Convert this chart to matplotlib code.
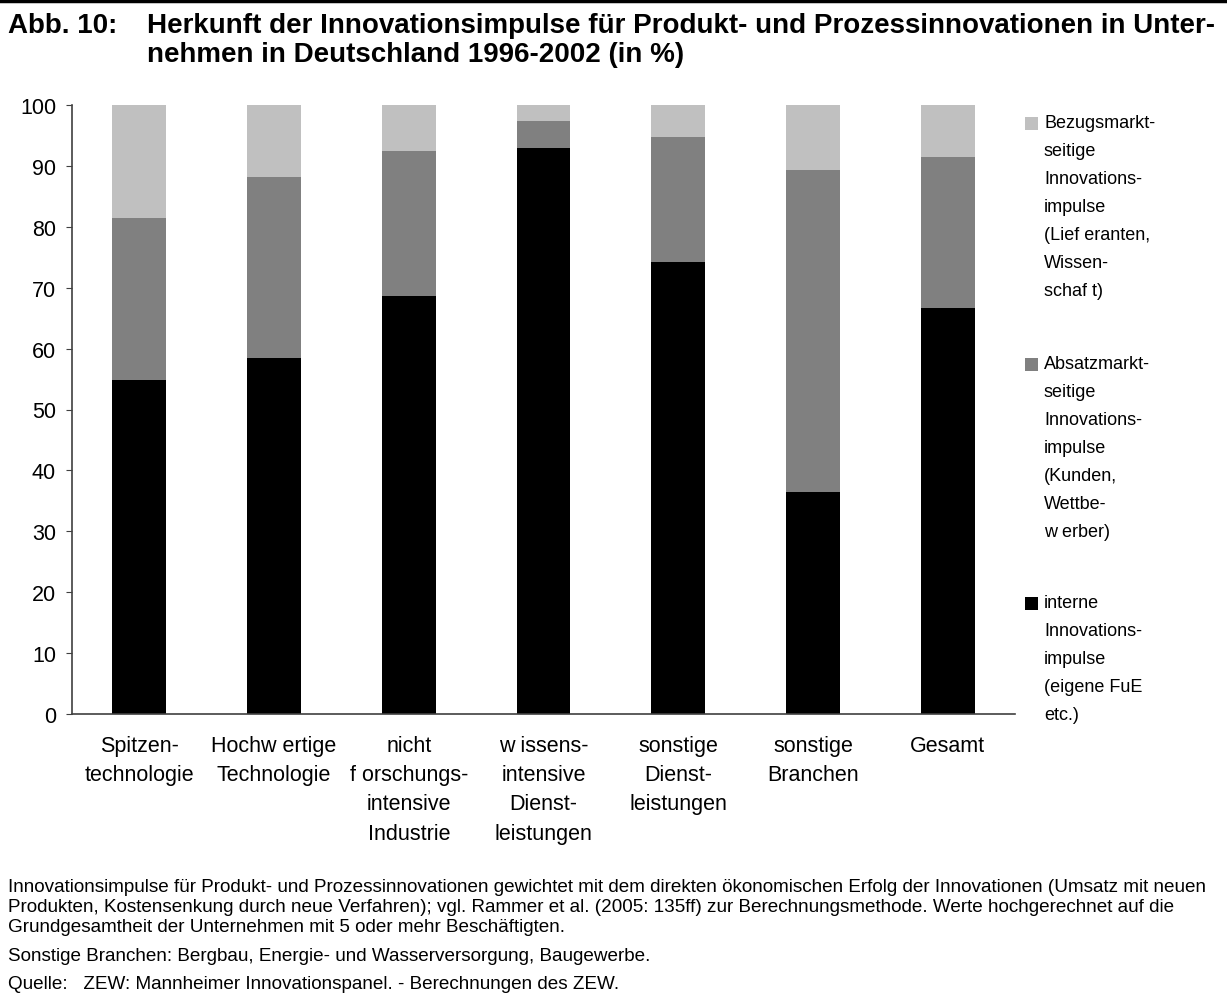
import matplotlib.pyplot as plt
from matplotlib.lines import Line2D
from matplotlib.patches import Rectangle

plt.rcParams['font.family'] = ['Liberation Sans', 'DejaVu Sans']

# Daten (in %)
kategorien = ['Spitzen-\ntechnologie', 'Hochw ertige\nTechnologie', 'nicht\nf orschungs-\nintensive\nIndustrie',
              'w issens-\nintensive\nDienst-\nleistungen', 'sonstige\nDienst-\nleistungen', 'sonstige\nBranchen',
              'Gesamt']
intern = [54.8, 58.4, 68.7, 93.0, 74.3, 36.4, 66.7]
absatz = [26.7, 29.7, 23.7, 4.3, 20.4, 53.0, 24.7]
bezug = [18.5, 11.9, 7.6, 2.7, 5.3, 10.6, 8.6]

farben = ['#000000', '#808080', '#c0c0c0']
legende = [
    ['Bezugsmarkt-', 'seitige', 'Innovations-', 'impulse', '(Lief eranten,', 'Wissen-', 'schaf t)'],
    ['Absatzmarkt-', 'seitige', 'Innovations-', 'impulse', '(Kunden,', 'Wettbe-', 'w erber)'],
    ['interne', 'Innovations-', 'impulse', '(eigene FuE', 'etc.)'],
]

W, H = 1227, 995
fig = plt.figure(figsize=(W / 100, H / 100), dpi=100)
ax = fig.add_axes([72 / W, 1 - 715 / H, (1015 - 72) / W, (715 - 106) / H])

x = list(range(len(kategorien)))
bottom3 = [a + b for a, b in zip(intern, absatz)]
ax.bar(x, intern, width=0.4, color=farben[0])
ax.bar(x, absatz, width=0.4, bottom=intern, color=farben[1])
ax.bar(x, bezug, width=0.4, bottom=bottom3, color=farben[2])

ax.set_xlim(-0.5, 6.5)
ax.set_ylim(0, 100)
ax.set_yticks(range(0, 101, 10))
ax.tick_params(axis='y', labelsize=15.5, length=4.5, direction='out', color='#404040', pad=7)
ax.tick_params(axis='x', length=0, labelsize=15.5, pad=15)
ax.set_xticks(x)
ax.set_xticklabels(kategorien, linespacing=1.52)
for s in ['top', 'right']:
    ax.spines[s].set_visible(False)
for s in ['left', 'bottom']:
    ax.spines[s].set_color('#404040')
    ax.spines[s].set_linewidth(1.2)

# Legende (von oben nach unten)
legend_y = [128, 369, 608]
for farbe, zeilen, y0 in zip(farben[::-1], legende, legend_y):
    fig.add_artist(Rectangle((1025 / W, 1 - (y0 + 3) / H), 13 / W, 13 / H,
                             transform=fig.transFigure, color=farbe, lw=0))
    for i, z in enumerate(zeilen):
        fig.text(1044 / W, 1 - (y0 + i * 28) / H, z, fontsize=13, va='baseline')

# Kopfzeile
fig.add_artist(Line2D([0, 1], [1 - 2 / H, 1 - 2 / H], color='black', linewidth=2.5))
fig.text(8 / W, 1 - 33 / H, 'Abb. 10:', fontsize=20, fontweight='bold', va='baseline')
fig.text(147 / W, 1 - 33 / H,
         'Herkunft der Innovationsimpulse für Produkt- und Prozessinnovationen in Unter-',
         fontsize=20, fontweight='bold', va='baseline')
fig.text(147 / W, 1 - 62 / H, 'nehmen in Deutschland 1996-2002 (in %)',
         fontsize=20, fontweight='bold', va='baseline')

# Fußnoten
fussnoten = [
    (892, 'Innovationsimpulse für Produkt- und Prozessinnovationen gewichtet mit dem direkten ökonomischen Erfolg der Innovationen (Umsatz mit neuen'),
    (912, 'Produkten, Kostensenkung durch neue Verfahren); vgl. Rammer et al. (2005: 135ff) zur Berechnungsmethode. Werte hochgerechnet auf die'),
    (932, 'Grundgesamtheit der Unternehmen mit 5 oder mehr Beschäftigten.'),
    (961, 'Sonstige Branchen: Bergbau, Energie- und Wasserversorgung, Baugewerbe.'),
    (989, 'Quelle:   ZEW: Mannheimer Innovationspanel. - Berechnungen des ZEW.'),
]
for y, t in fussnoten:
    fig.text(8 / W, 1 - y / H, t, fontsize=13.6, va='baseline')

fig.savefig('out.png', dpi=100)
